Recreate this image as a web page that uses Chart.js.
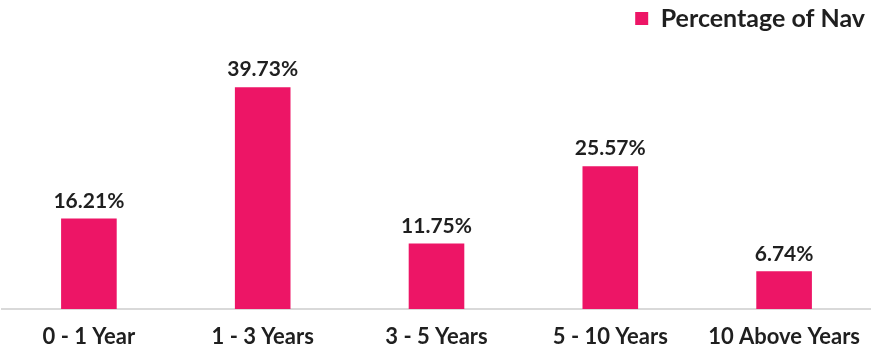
<!DOCTYPE html>
<html>
<head>
<meta charset="utf-8">
<script src="https://cdn.jsdelivr.net/npm/chart.js@4"></script>
<style>
  html, body { margin: 0; padding: 0; background: #fff; }
  #wrap { width: 871px; height: 351px; }
</style>
</head>
<body>
<div id="wrap"><canvas id="navChart" width="871" height="351"></canvas></div>
<script>
// Maturity buckets and their share of NAV (%)
const categories = ['0 - 1 Year', '1 - 3 Years', '3 - 5 Years', '5 - 10 Years', '10 Above Years'];
const navPercent = [16.21, 39.73, 11.75, 25.57, 6.74];
const seriesName = 'Percentage of Nav';

const BAR_COLOR = '#ED1566';
const TEXT_COLOR = '#1f1f1f';

// Draw the value labels above each bar
const valueLabels = {
    id: 'valueLabels',
    afterDatasetsDraw(chart) {
        const ctx = chart.ctx;
        const meta = chart.getDatasetMeta(0);
        ctx.save();
        ctx.font = 'bold 21px Lato';
        ctx.fillStyle = TEXT_COLOR;
        ctx.textAlign = 'center';
        ctx.textBaseline = 'bottom';
        meta.data.forEach((bar, i) => {
            ctx.fillText(navPercent[i].toFixed(2) + '%', bar.x, bar.y - 7);
        });
        ctx.restore();
    }
};

// Keep the legend inside the canvas even though the plot runs to the edge
const legendNudge = {
    id: 'legendNudge',
    afterLayout(chart) {
        const lg = chart.legend;
        if (!lg) return;
        const shift = lg.right - 871;
        lg.left -= shift;
        lg.right -= shift;
    }
};

new Chart(document.getElementById('navChart').getContext('2d'), {
    type: 'bar',
    data: {
        labels: categories,
        datasets: [{
            label: seriesName,
            data: navPercent,
            backgroundColor: BAR_COLOR,
            borderWidth: 0,
            barPercentage: 0.32,
            categoryPercentage: 1
        }]
    },
    options: {
        responsive: false,
        animation: false,
        layout: { padding: { left: 2, right: -9, top: 0, bottom: 0 } },
        scales: {
            x: {
                grid: { display: false, drawTicks: false, tickLength: 0 },
                border: { color: '#d9d9d9', width: 2 },
                ticks: {
                    color: TEXT_COLOR,
                    font: { family: 'Lato', weight: 'bold', size: 22 },
                    padding: 15,
                    maxRotation: 0
                },
                // fixed axis band so the baseline sits where the original has it
                afterFit(scale) {
                    scale.height = 42;
                    scale.paddingLeft = 0;
                    scale.paddingRight = 0;
                }
            },
            y: {
                display: false,
                min: 0,
                max: 48
            }
        },
        plugins: {
            legend: {
                position: 'top',
                align: 'end',
                labels: {
                    color: TEXT_COLOR,
                    font: { family: 'Lato', weight: 'bold', size: 25 },
                    boxWidth: 13,
                    boxHeight: 13,
                    padding: 6
                }
            },
            tooltip: { enabled: false }
        }
    },
    plugins: [valueLabels, legendNudge]
});
</script>
</body>
</html>
